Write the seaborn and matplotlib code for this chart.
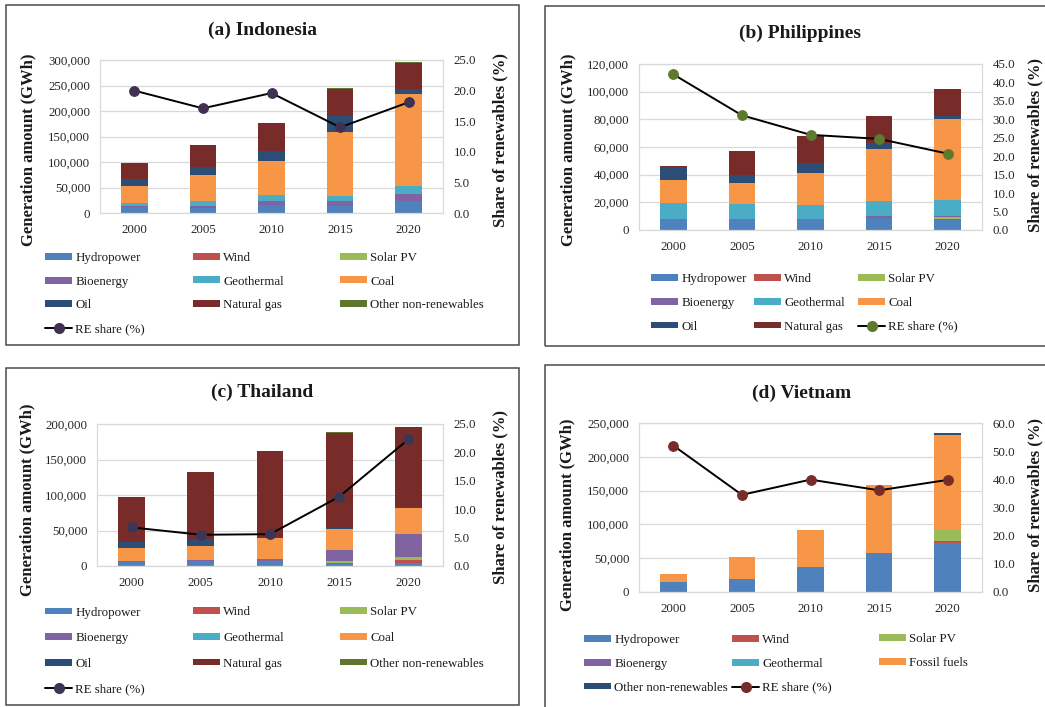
import matplotlib
matplotlib.use("Agg")
import numpy as np
import pandas as pd
import matplotlib.pyplot as plt
import seaborn as sns
from matplotlib.patches import Patch, Rectangle
from matplotlib.lines import Line2D
from matplotlib.ticker import FuncFormatter, MultipleLocator

# ---------------------------------------------------------------- data (GWh)
years = ["2000", "2005", "2010", "2015", "2020"]

# (a) Indonesia
idn_hydro = [12000, 10000, 15000, 13500, 23500]
idn_wind = [0, 0, 0, 0, 200]
idn_solar = [0, 0, 0, 0, 200]
idn_bio = [2000, 4000, 9000, 9500, 12500]
idn_geo = [5500, 9000, 10500, 10000, 16000]
idn_coal = [32500, 52000, 68000, 125000, 181000]
idn_oil = [14500, 16000, 19500, 32500, 9500]
idn_gas = [32500, 41500, 55000, 52500, 52000]
idn_other = [0, 0, 0, 1500, 1500]
idn_re = [20.0, 17.1, 19.6, 14.0, 18.1]

# (b) Philippines
phl_hydro = [8000, 8000, 8000, 8500, 7200]
phl_wind = [0, 0, 0, 800, 1000]
phl_solar = [0, 0, 0, 150, 1300]
phl_bio = [0, 0, 0, 350, 400]
phl_geo = [11500, 10600, 10200, 11100, 11800]
phl_coal = [16800, 15300, 22900, 37300, 58500]
phl_oil = [9200, 5500, 7100, 4800, 2500]
phl_gas = [500, 17500, 20000, 19400, 19300]
phl_re = [42.2, 31.1, 25.8, 24.7, 20.7]

# (c) Thailand
tha_hydro = [6000, 7500, 6600, 4400, 4200]
tha_wind = [0, 0, 0, 300, 3800]
tha_solar = [0, 0, 0, 2800, 4200]
tha_bio = [1000, 1500, 2800, 15100, 32500]
tha_geo = [0, 0, 0, 0, 0]
tha_coal = [18000, 19700, 30600, 29600, 37200]
tha_oil = [9400, 8900, 1400, 1400, 900]
tha_gas = [62100, 95100, 120000, 133200, 113400]
tha_other = [0, 0, 0, 1400, 0]
tha_re = [6.8, 5.5, 5.6, 12.2, 22.3]

# (d) Vietnam
vnm_hydro = [14400, 18800, 36600, 57400, 72800]
vnm_wind = [0, 0, 0, 0, 2400]
vnm_solar = [0, 0, 0, 0, 16400]
vnm_bio = [0, 0, 0, 0, 0]
vnm_geo = [0, 0, 0, 0, 0]
vnm_fossil = [11800, 33700, 55000, 101000, 141000]
vnm_other = [0, 0, 0, 0, 2000]
vnm_re = [52.0, 34.5, 39.9, 36.1, 39.8]

# ---------------------------------------------------------------- styling
C_HYDRO = "#4F81BD"
C_WIND = "#C0504D"
C_SOLAR = "#9BBB59"
C_BIO = "#8064A2"
C_GEO = "#4BACC6"
C_COAL = "#F79646"
C_OIL = "#2C4D75"
C_GAS = "#772C2A"
C_OTHER = "#5F7530"

W, H = 1045, 707
sns.set_theme(style="white")
plt.rcParams["font.family"] = ["Liberation Serif", "DejaVu Serif"]
plt.rcParams["text.color"] = "#1a1a1a"

fig = plt.figure(figsize=(W / 100, H / 100), dpi=100)

TICK_FS = 9.3
LEG_FS = 9.3
LAB_FS = 12
TITLE_FS = 14
GRID = "#D9D9D9"


def fx(x):
    return x / W


def fy(y):
    return 1 - y / H


def panel(box, plot, title, title_xy, series, re_vals, re_color,
          ymax, ystep, rmax, rstep, ylab_xy, rlab_xy, leg_cols, leg_rows):
    # panel frame
    x0, y0, x1, y1 = box
    fig.add_artist(Rectangle((fx(x0), fy(y1)), fx(x1 - x0), (y1 - y0) / H,
                             transform=fig.transFigure, fill=False,
                             edgecolor="#4a4a4a", linewidth=1.1))
    px0, py0, px1, py1 = plot
    ax = fig.add_axes([fx(px0), fy(py1), fx(px1 - px0), (py1 - py0) / H])

    names = [s[0] for s in series]
    df = pd.DataFrame({"year": years})
    for name, vals, _ in series:
        df[name] = vals
    cum = df[names].cumsum(axis=1)
    # stacked columns: draw cumulative totals from the top segment down
    for name, _, col in reversed(series):
        sns.barplot(x=df["year"], y=cum[name], order=years, color=col,
                    saturation=1, width=0.39, errorbar=None, linewidth=0,
                    ax=ax)

    ax.set_xlim(-0.5, 4.5)
    ax.set_ylim(0, ymax)
    ax.yaxis.set_major_locator(MultipleLocator(ystep))
    ax.yaxis.set_major_formatter(FuncFormatter(lambda v, p: f"{v:,.0f}"))
    ax.yaxis.grid(True, color=GRID, linewidth=0.9)
    ax.set_axisbelow(True)
    for sp in ax.spines.values():
        sp.set_visible(True)
        sp.set_color(GRID)
        sp.set_linewidth(0.9)
    ax.set_xlabel("")
    ax.set_ylabel("")
    ax.tick_params(axis="both", length=0, labelsize=TICK_FS,
                   labelcolor="#262626")
    ax.tick_params(axis="y", pad=7)
    ax.tick_params(axis="x", pad=8)

    ax2 = ax.twinx()
    re_df = pd.DataFrame({"pos": np.arange(len(years)), "re": re_vals})
    sns.lineplot(data=re_df, x="pos", y="re", ax=ax2, color="black",
                 linewidth=1.4, marker="o", markersize=7,
                 markerfacecolor=re_color, markeredgecolor=re_color)
    ax2.set_ylim(0, rmax)
    ax2.yaxis.set_major_locator(MultipleLocator(rstep))
    ax2.yaxis.set_major_formatter(FuncFormatter(lambda v, p: f"{v:.1f}"))
    ax2.set_xlim(-0.5, 4.5)
    ax2.set_xlabel("")
    ax2.set_ylabel("")
    ax2.grid(False)
    for sp in ax2.spines.values():
        sp.set_visible(False)
    ax2.tick_params(axis="y", length=0, labelsize=TICK_FS, pad=7.5,
                    labelcolor="#262626")

    fig.text(fx(title_xy[0]), fy(title_xy[1]), title, ha="center",
             va="center", fontsize=TITLE_FS, fontweight="bold")
    fig.text(fx(ylab_xy[0]), fy(ylab_xy[1]), "Generation amount (GWh)",
             rotation=90, ha="center", va="center", fontsize=LAB_FS,
             fontweight="bold")
    fig.text(fx(rlab_xy[0]), fy(rlab_xy[1]), "Share of renewables (%)",
             rotation=90, ha="center", va="center", fontsize=LAB_FS,
             fontweight="bold")

    # legend laid out row by row across three columns
    handles = [(Patch(facecolor=col, edgecolor="none"), name)
               for name, _, col in series]
    handles.append((Line2D([], [], color="black", linewidth=1.4, marker="o",
                           markersize=7, markerfacecolor=re_color,
                           markeredgecolor=re_color), "RE share (%)"))
    for ci, cx in enumerate(leg_cols):
        items = handles[ci::3]
        rows = leg_rows[:len(items)]
        yc = (rows[0] + rows[-1]) / 2
        pitch = (leg_rows[1] - leg_rows[0])
        fig.legend([h for h, _ in items], [l for _, l in items],
                   loc="center left", bbox_to_anchor=(fx(cx), fy(yc)),
                   bbox_transform=fig.transFigure, frameon=False,
                   borderpad=0, borderaxespad=0, handlelength=2.1,
                   handleheight=0.45, handletextpad=0.25,
                   labelspacing=(pitch - 12.4) / (LEG_FS * 100 / 72),
                   fontsize=LEG_FS)
    return ax, ax2


# (a) Indonesia
panel(box=(6, 5, 519, 345), plot=(100, 60, 443, 213),
      title="(a) Indonesia", title_xy=(262, 30),
      series=[("Hydropower", idn_hydro, C_HYDRO), ("Wind", idn_wind, C_WIND),
              ("Solar PV", idn_solar, C_SOLAR), ("Bioenergy", idn_bio, C_BIO),
              ("Geothermal", idn_geo, C_GEO), ("Coal", idn_coal, C_COAL),
              ("Oil", idn_oil, C_OIL), ("Natural gas", idn_gas, C_GAS),
              ("Other non-renewables", idn_other, C_OTHER)],
      re_vals=idn_re, re_color="#403152",
      ymax=300000, ystep=50000, rmax=25, rstep=5,
      ylab_xy=(28, 150), rlab_xy=(500, 140),
      leg_cols=[45, 193, 340], leg_rows=[258, 282, 305, 329])

# (b) Philippines
panel(box=(545, 6, 1060, 346), plot=(639, 64, 982, 230),
      title="(b) Philippines", title_xy=(800, 33),
      series=[("Hydropower", phl_hydro, C_HYDRO), ("Wind", phl_wind, C_WIND),
              ("Solar PV", phl_solar, C_SOLAR), ("Bioenergy", phl_bio, C_BIO),
              ("Geothermal", phl_geo, C_GEO), ("Coal", phl_coal, C_COAL),
              ("Oil", phl_oil, C_OIL), ("Natural gas", phl_gas, C_GAS)],
      re_vals=phl_re, re_color="#5E7A2E",
      ymax=120000, ystep=20000, rmax=45, rstep=5,
      ylab_xy=(568, 150), rlab_xy=(1035, 145),
      leg_cols=[651, 754, 858], leg_rows=[278, 302, 328])

# (c) Thailand
panel(box=(6, 368, 519, 705), plot=(97, 424, 443, 566),
      title="(c) Thailand", title_xy=(262, 392),
      series=[("Hydropower", tha_hydro, C_HYDRO), ("Wind", tha_wind, C_WIND),
              ("Solar PV", tha_solar, C_SOLAR), ("Bioenergy", tha_bio, C_BIO),
              ("Geothermal", tha_geo, C_GEO), ("Coal", tha_coal, C_COAL),
              ("Oil", tha_oil, C_OIL), ("Natural gas", tha_gas, C_GAS),
              ("Other non-renewables", tha_other, C_OTHER)],
      re_vals=tha_re, re_color="#3B3656",
      ymax=200000, ystep=50000, rmax=25, rstep=5,
      ylab_xy=(27, 500), rlab_xy=(500, 497),
      leg_cols=[45, 193, 340], leg_rows=[613, 639, 663, 689])

# (d) Vietnam
panel(box=(545, 365, 1060, 720), plot=(639, 423, 982, 592),
      title="(d) Vietnam", title_xy=(802, 393),
      series=[("Hydropower", vnm_hydro, C_HYDRO), ("Wind", vnm_wind, C_WIND),
              ("Solar PV", vnm_solar, C_SOLAR), ("Bioenergy", vnm_bio, C_BIO),
              ("Geothermal", vnm_geo, C_GEO),
              ("Fossil fuels", vnm_fossil, C_COAL),
              ("Other non-renewables", vnm_other, C_OIL)],
      re_vals=vnm_re, re_color="#772C2A",
      ymax=250000, ystep=50000, rmax=60, rstep=10,
      ylab_xy=(567, 515), rlab_xy=(1035, 505),
      leg_cols=[584, 732, 879], leg_rows=[639, 663, 689])

fig.savefig("out.png", dpi=100)
